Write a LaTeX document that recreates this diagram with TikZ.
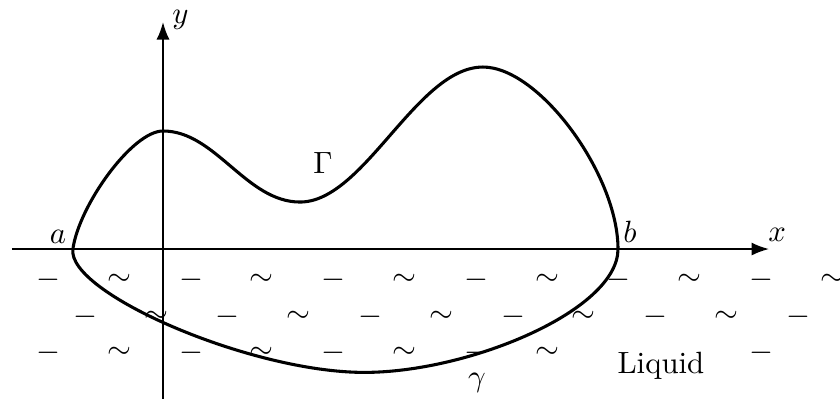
\documentclass[tikz,border=0pt]{standalone}
\usepackage{amsmath,amssymb}
\usetikzlibrary{arrows.meta}

\begin{document}
\begin{tikzpicture}[every node/.style={font=\normalsize}, >={Latex[length=2mm]}]
	\useasboundingbox (-1.863,-1.703) rectangle (7.737,2.846);
	% liquid marks
	\foreach \i in {0,...,5} {
		\node (minA\i) at (-1.31+1.63*\i,-0.354) {$-$};
		\node (simA\i) at (-0.5+1.63*\i,-0.354) {$\sim$};
		\node (minB\i) at (-0.89+1.63*\i,-0.777) {$-$};
	}
	\foreach \i in {0,...,4}
		\node (simB\i) at (-0.08+1.63*\i,-0.777) {$\sim$};
	\foreach \i in {0,1,2,3,5}
		\node (minC\i) at (-1.31+1.63*\i,-1.189) {$-$};
	\foreach \i in {0,...,3}
		\node (simC\i) at (-0.5+1.63*\i,-1.189) {$\sim$};
	\node (liquid) at (5.69,-1.34) {Liquid};
	% axes
	\draw[->, line width=0.6pt] (-1.726,0) -- (6.926,0);
	\draw[->, line width=0.6pt] (0,-1.75) -- (0,2.594);
	\node (xlab) at (7.02,0.16) {$x$};
	\node (ylab) at (0.2,2.62) {$y$};
	% body
	\draw[line width=1pt] (-1.03,0)
		.. controls (-0.96,0.5) and (-0.35,1.349) .. (0,1.349)
		.. controls (0.6,1.349) and (0.95,0.537) .. (1.566,0.537)
		.. controls (2.3,0.537) and (2.9,2.08) .. (3.657,2.08)
		.. controls (4.3,2.08) and (5.2,0.85) .. (5.2,0)
		.. controls (5.2,-0.7) and (3.5,-1.41) .. (2.3,-1.41)
		.. controls (1.0,-1.41) and (-1.1,-0.5) .. cycle;
	\node (a) at (-1.2,0.137) {$a$};
	\node (b) at (5.337,0.194) {$b$};
	\node (Gamma) at (1.829,0.983) {$\Gamma$};
	\node (gamma) at (3.589,-1.531) {$\gamma$};
\end{tikzpicture}
\end{document}
